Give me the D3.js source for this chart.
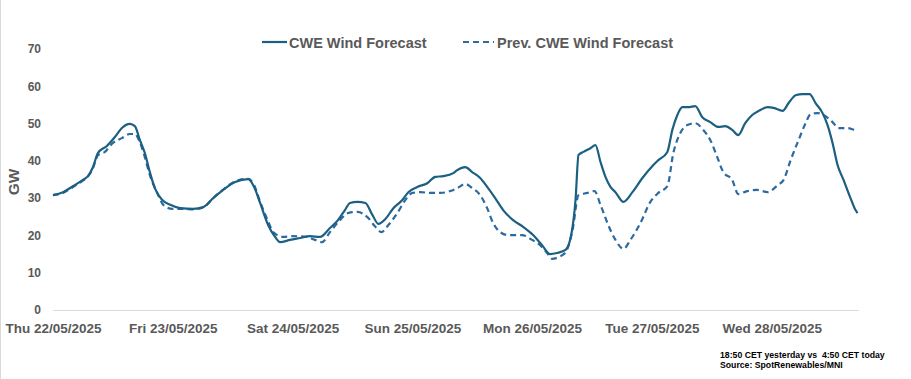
<!DOCTYPE html>
<html>
<head>
<meta charset="utf-8">
<script src="https://cdn.jsdelivr.net/npm/d3@7"></script>
<style>
  body { margin: 0; background: #fff; }
  text { font-family: "Liberation Sans", Arial, sans-serif; font-weight: bold; }
</style>
</head>
<body>
<script>
var fullWidth = 911
var fullHeight = 379

// hours after Thu 22/05/2025 00:00, values in GW
var curHours = [0, 2, 4, 6, 7, 8, 9, 10.8, 12.4, 13.8, 15.4, 16.4, 17.4, 18.4, 19.4, 20.4, 21.9, 23.5, 25.5, 28.1,
  30.1, 32.1, 34.1, 36.5, 39.1, 40.3, 41.5, 43.1, 44.5, 45.5, 47.5, 49.5, 51.5, 53.5, 55.5, 57.1, 58.5, 59.5, 61, 62.6,
  64, 65.2, 66.6, 68.2, 70, 71.2, 73, 75, 76.6, 78.2, 80.2, 81, 82.6, 84, 85.6, 87, 88.6, 90.2, 92.2, 94.2,
  96.2, 98, 99.6, 101, 102.7, 103.9, 104.7, 105.3, 106.3, 107.7, 108.7, 109.7, 110.7, 111.7, 112.7, 114.3, 116.1, 118.1, 120.3, 121.3,
  123.1, 124.1, 125.1, 126.1, 127.3, 128.7, 130.1, 131.7, 133.3, 134.7, 136.1, 137.3, 138.7, 140.1, 141.4, 143.2, 144.4, 146.2, 147.4, 148.8,
  150.2, 151.6, 152.8, 154.2, 155.2, 156.2, 157.2, 158.4, 159.8, 160.8, 161.2]
var curGW = [30.8, 31.6, 33.2, 34.9, 35.9, 38.3, 42.1, 44.0, 46.4, 48.8, 49.9, 49.3, 45.6, 42.1, 37.0, 32.7, 29.5, 28.2, 27.3, 27.1,
  27.6, 30.0, 32.2, 34.3, 35.1, 33.0, 28.7, 22.8, 19.6, 18.2, 18.8, 19.3, 19.8, 19.6, 22.0, 24.1, 26.8, 28.7, 29.0, 28.7,
  25.5, 23.1, 24.4, 27.3, 29.5, 31.6, 33.0, 34.0, 35.7, 35.9, 36.7, 37.5, 38.3, 37.0, 35.4, 33.0, 30.0, 26.8, 24.1, 22.3,
  20.1, 17.4, 15.0, 15.3, 16.1, 20.6, 29.5, 41.6, 42.4, 43.4, 44.2, 39.7, 35.7, 33.0, 31.6, 29.0, 31.6, 35.4, 38.9, 40.2,
  42.4, 48.3, 52.3, 54.4, 54.4, 54.7, 51.7, 50.4, 49.1, 49.3, 48.3, 46.9, 50.1, 52.3, 53.4, 54.4, 54.2, 53.4, 55.5, 57.6,
  57.9, 57.9, 55.5, 52.8, 49.6, 44.8, 38.9, 34.9, 30.0, 26.8, 26.0]

var prevHours = [0, 2, 4, 6, 7, 8, 9, 10.4, 12, 13.8, 15.4, 16.4, 17.4, 18.4, 19.4, 20.9, 22.1, 23.9, 26.1, 28.1,
  30.1, 32.1, 34.1, 36.5, 39.1, 40.3, 41.5, 43.1, 44.1, 46.1, 48.1, 50.9, 52.5, 53.9, 55.5, 57.5, 59.1, 61, 63, 64.6,
  65.8, 67.2, 69, 70.6, 72, 73.6, 75.6, 77.6, 79.6, 81, 82.6, 84, 85.6, 87, 88.2, 89.6, 91.2, 94, 96, 97.6,
  99, 100, 101.3, 102.7, 104.1, 105.3, 107.1, 108.5, 109.7, 111.1, 112.7, 114.3, 115.7, 117.7, 119.7, 121.3, 123.1, 124.3, 125.7, 127.1,
  128.7, 130.3, 131.7, 133.1, 134.3, 136.1, 137.3, 139.1, 141.1, 143.2, 145.2, 146.4, 147.8, 149.4, 150.8, 151.8, 153.2, 154.4, 156.2, 157.4,
  159.2, 160.8, 161.2]
var prevGW = [30.8, 31.4, 33.0, 34.7, 35.8, 38.0, 41.5, 42.4, 44.8, 46.1, 47.2, 47.2, 45.0, 41.0, 36.2, 31.4, 28.2, 27.1, 27.1, 27.0,
  27.5, 30.0, 32.3, 34.5, 35.2, 33.5, 29.0, 23.8, 20.9, 19.6, 19.8, 19.6, 18.8, 18.2, 20.9, 24.1, 26.0, 26.3, 24.9, 22.3,
  20.9, 22.8, 26.0, 29.5, 31.4, 31.6, 31.4, 31.4, 31.9, 32.7, 33.8, 32.7, 30.8, 27.3, 23.3, 20.9, 20.1, 20.1, 18.8, 17.4,
  15.3, 13.7, 14.2, 15.5, 21.4, 30.8, 31.4, 31.9, 28.2, 23.3, 18.8, 16.4, 18.8, 23.3, 29.0, 31.4, 33.2, 42.1, 47.5, 49.6,
  50.1, 48.3, 45.6, 41.0, 37.0, 34.9, 31.1, 31.9, 32.2, 31.6, 33.5, 34.9, 40.2, 45.6, 50.1, 52.5, 52.8, 52.3, 50.4, 48.8,
  48.8, 48.3, 48.3]

var yTicks = [0, 10, 20, 30, 40, 50, 60, 70]
var seriesNames = ['CWE Wind Forecast', 'Prev. CWE Wind Forecast']
var footNotes = ['18:50 CET yesterday vs  4:50 CET today', 'Source: SpotRenewables/MNI']

var start = new Date(2025, 4, 22)
var endHour = 161.3
function toDate(h) { return new Date(start.getTime() + h * 3600 * 1000) }

var cur = curHours.map((h, i) => ({ t: toDate(h), v: curGW[i] }))
var prev = prevHours.map((h, i) => ({ t: toDate(h), v: prevGW[i] }))

var svg = d3
  .select('body')
  .append('svg')
  .attr('width', fullWidth)
  .attr('height', fullHeight)

// chart border (left edge visible)
svg.append('line')
  .attr('x1', 0.5).attr('x2', 0.5)
  .attr('y1', 0).attr('y2', fullHeight)
  .attr('stroke', '#d9d9d9')

var x = d3.scaleTime()
  .domain([start, toDate(endHour)])
  .range([53, 858])

var y = d3.scaleLinear()
  .domain([0, 70])
  .range([310, 49])

// y axis labels, no axis line
var yAxis = svg.append('g')
  .attr('transform', 'translate(41,0)')
  .call(d3.axisLeft(y).tickValues(yTicks).tickSize(0).tickPadding(0))
yAxis.select('.domain').remove()
yAxis.selectAll('text')
  .attr('fill', '#595959')
  .style('font-size', '12px')

// x axis
var xAxis = svg.append('g')
  .attr('transform', 'translate(0,310)')
  .call(d3.axisBottom(x)
    .ticks(d3.timeDay.every(1))
    .tickFormat(d3.timeFormat('%a %d/%m/%Y'))
    .tickSize(0)
    .tickPadding(13))
xAxis.select('.domain').attr('stroke', '#d9d9d9').attr('stroke-width', 1)
xAxis.selectAll('text')
  .attr('fill', '#595959')
  .style('font-size', '13.5px')

svg.append('text')
  .attr('transform', 'translate(19,182) rotate(-90)')
  .attr('text-anchor', 'middle')
  .attr('fill', '#595959')
  .style('font-size', '15.5px')
  .text('GW')

var line = d3.line()
  .x((d) => x(d.t))
  .y((d) => y(d.v))
  .curve(d3.curveMonotoneX)

svg.append('path')
  .datum(prev)
  .attr('d', line)
  .attr('fill', 'none')
  .attr('stroke', '#2c6aa0')
  .attr('stroke-width', 2.2)
  .attr('stroke-dasharray', '6,4')

svg.append('path')
  .datum(cur)
  .attr('d', line)
  .attr('fill', 'none')
  .attr('stroke', '#1b5f82')
  .attr('stroke-width', 2.2)

// legend
var legend = [
  { name: seriesNames[0], x1: 262, x2: 287, tx: 289, color: '#1b5f82', dash: null },
  { name: seriesNames[1], x1: 463, x2: 494, tx: 497, color: '#2c6aa0', dash: '6,4' }
]
legend.forEach((l) => {
  svg.append('line')
    .attr('x1', l.x1).attr('x2', l.x2)
    .attr('y1', 42).attr('y2', 42)
    .attr('stroke', l.color)
    .attr('stroke-width', 2.2)
    .attr('stroke-dasharray', l.dash)
  svg.append('text')
    .attr('x', l.tx)
    .attr('y', 47.5)
    .attr('fill', '#595959')
    .style('font-size', '14.5px')
    .text(l.name)
})

// foot notes
svg.selectAll('.note')
  .data(footNotes)
  .enter()
  .append('text')
  .attr('class', 'note')
  .attr('x', 720)
  .attr('y', (d, i) => 358 + i * 10)
  .attr('fill', '#000')
  .style('font-size', '8.7px')
  .style('white-space', 'pre')
  .text((d) => d)
</script>
</body>
</html>
